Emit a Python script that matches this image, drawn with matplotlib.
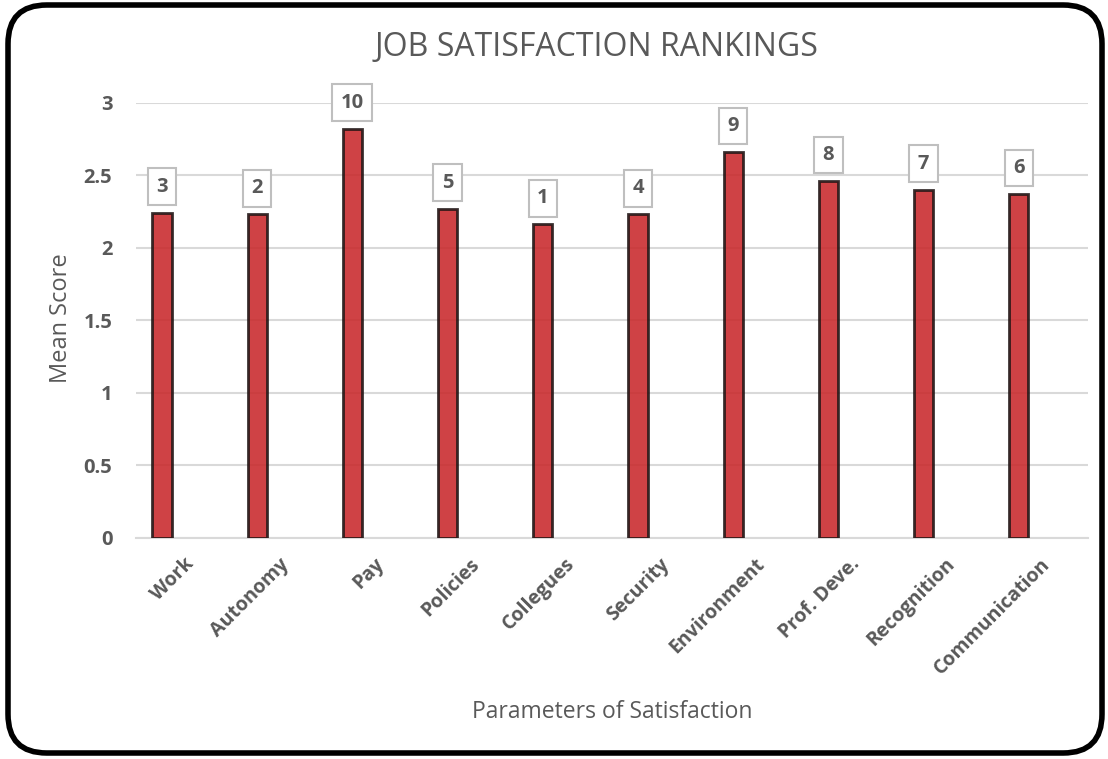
import numpy as np
import matplotlib.pyplot as plt
from matplotlib.patches import FancyBboxPatch

categories = ["Work", "Autonomy", "Pay", "Policies", "Collegues", "Security",
              "Environment", "Prof. Deve.", "Recognition", "Communication"]
mean_scores = [2.24, 2.23, 2.82, 2.27, 2.16, 2.23, 2.66, 2.46, 2.40, 2.37]
ranks = [3, 2, 10, 5, 1, 4, 9, 8, 7, 6]
y_ticks = [0, 0.5, 1, 1.5, 2, 2.5, 3]
y_tick_labels = ["0", "0.5", "1", "1.5", "2", "2.5", "3"]

plt.rcParams['font.family'] = ['Open Sans', 'DejaVu Sans']
text_gray = "#595959"
grid_gray = "#d9d9d9"

fig = plt.figure(figsize=(11.08, 7.59), dpi=100)
ax = fig.add_axes([136 / 1108, 1 - 537.5 / 759, 952 / 1108, 434.8 / 759])

x = np.arange(len(categories))
bar_x = x - 0.227
ax.bar(bar_x, mean_scores, width=0.2, color="#c9282b", alpha=0.88,
       edgecolor="#1e1414", linewidth=2, zorder=3)

# rank labels in boxes above each bar
for bx, val, rk in zip(bar_x, mean_scores, ranks):
    ax.annotate(str(rk), xy=(bx, val), xytext=(0, 11.5), textcoords="offset points",
                ha="center", va="bottom", fontsize=14.5, fontweight="bold",
                color=text_gray, zorder=4,
                bbox=dict(boxstyle="square,pad=0.42", fc="white", ec="#bfbfbf", lw=1.5))

ax.set_xlim(-0.5, len(categories) - 0.5)
ax.set_ylim(0, 3)
ax.set_yticks(y_ticks)
ax.set_yticklabels(y_tick_labels, fontsize=14.5, fontweight="bold", color=text_gray)
ax.set_xticks(x)
ax.set_xticklabels(categories, rotation=45, ha="right", va="top", rotation_mode="anchor",
                   fontsize=14, fontweight="bold", color=text_gray)
ax.tick_params(axis="both", length=0)
ax.tick_params(axis="y", pad=17)
ax.tick_params(axis="x", pad=12)
ax.yaxis.grid(True, color=grid_gray, linewidth=1.5, zorder=0)
for s in ["top", "right", "left"]:
    ax.spines[s].set_visible(False)
ax.spines["bottom"].set_color(grid_gray)
ax.spines["bottom"].set_linewidth(1.5)

fig.text(61 / 1108, 1 - 318 / 759, "Mean Score", fontsize=17, rotation=90,
         color=text_gray, ha="center", va="center")
fig.text(612 / 1108, 1 - 712 / 759, "Parameters of Satisfaction", fontsize=16.5,
         color=text_gray, ha="center", va="center")
fig.text(597 / 1108, 1 - 48 / 759, "JOB SATISFACTION RANKINGS", fontsize=23,
         color=text_gray, ha="center", va="center")

# rounded black frame around the chart
frame = FancyBboxPatch((8 / 1108, 6 / 759), 1094 / 1108, 748 / 759,
                       boxstyle="round,pad=0,rounding_size=0.035",
                       transform=fig.transFigure, fill=False, ec="black", lw=4,
                       mutation_aspect=1108 / 759)
fig.patches.append(frame)

fig.savefig("out.png", dpi=100)
